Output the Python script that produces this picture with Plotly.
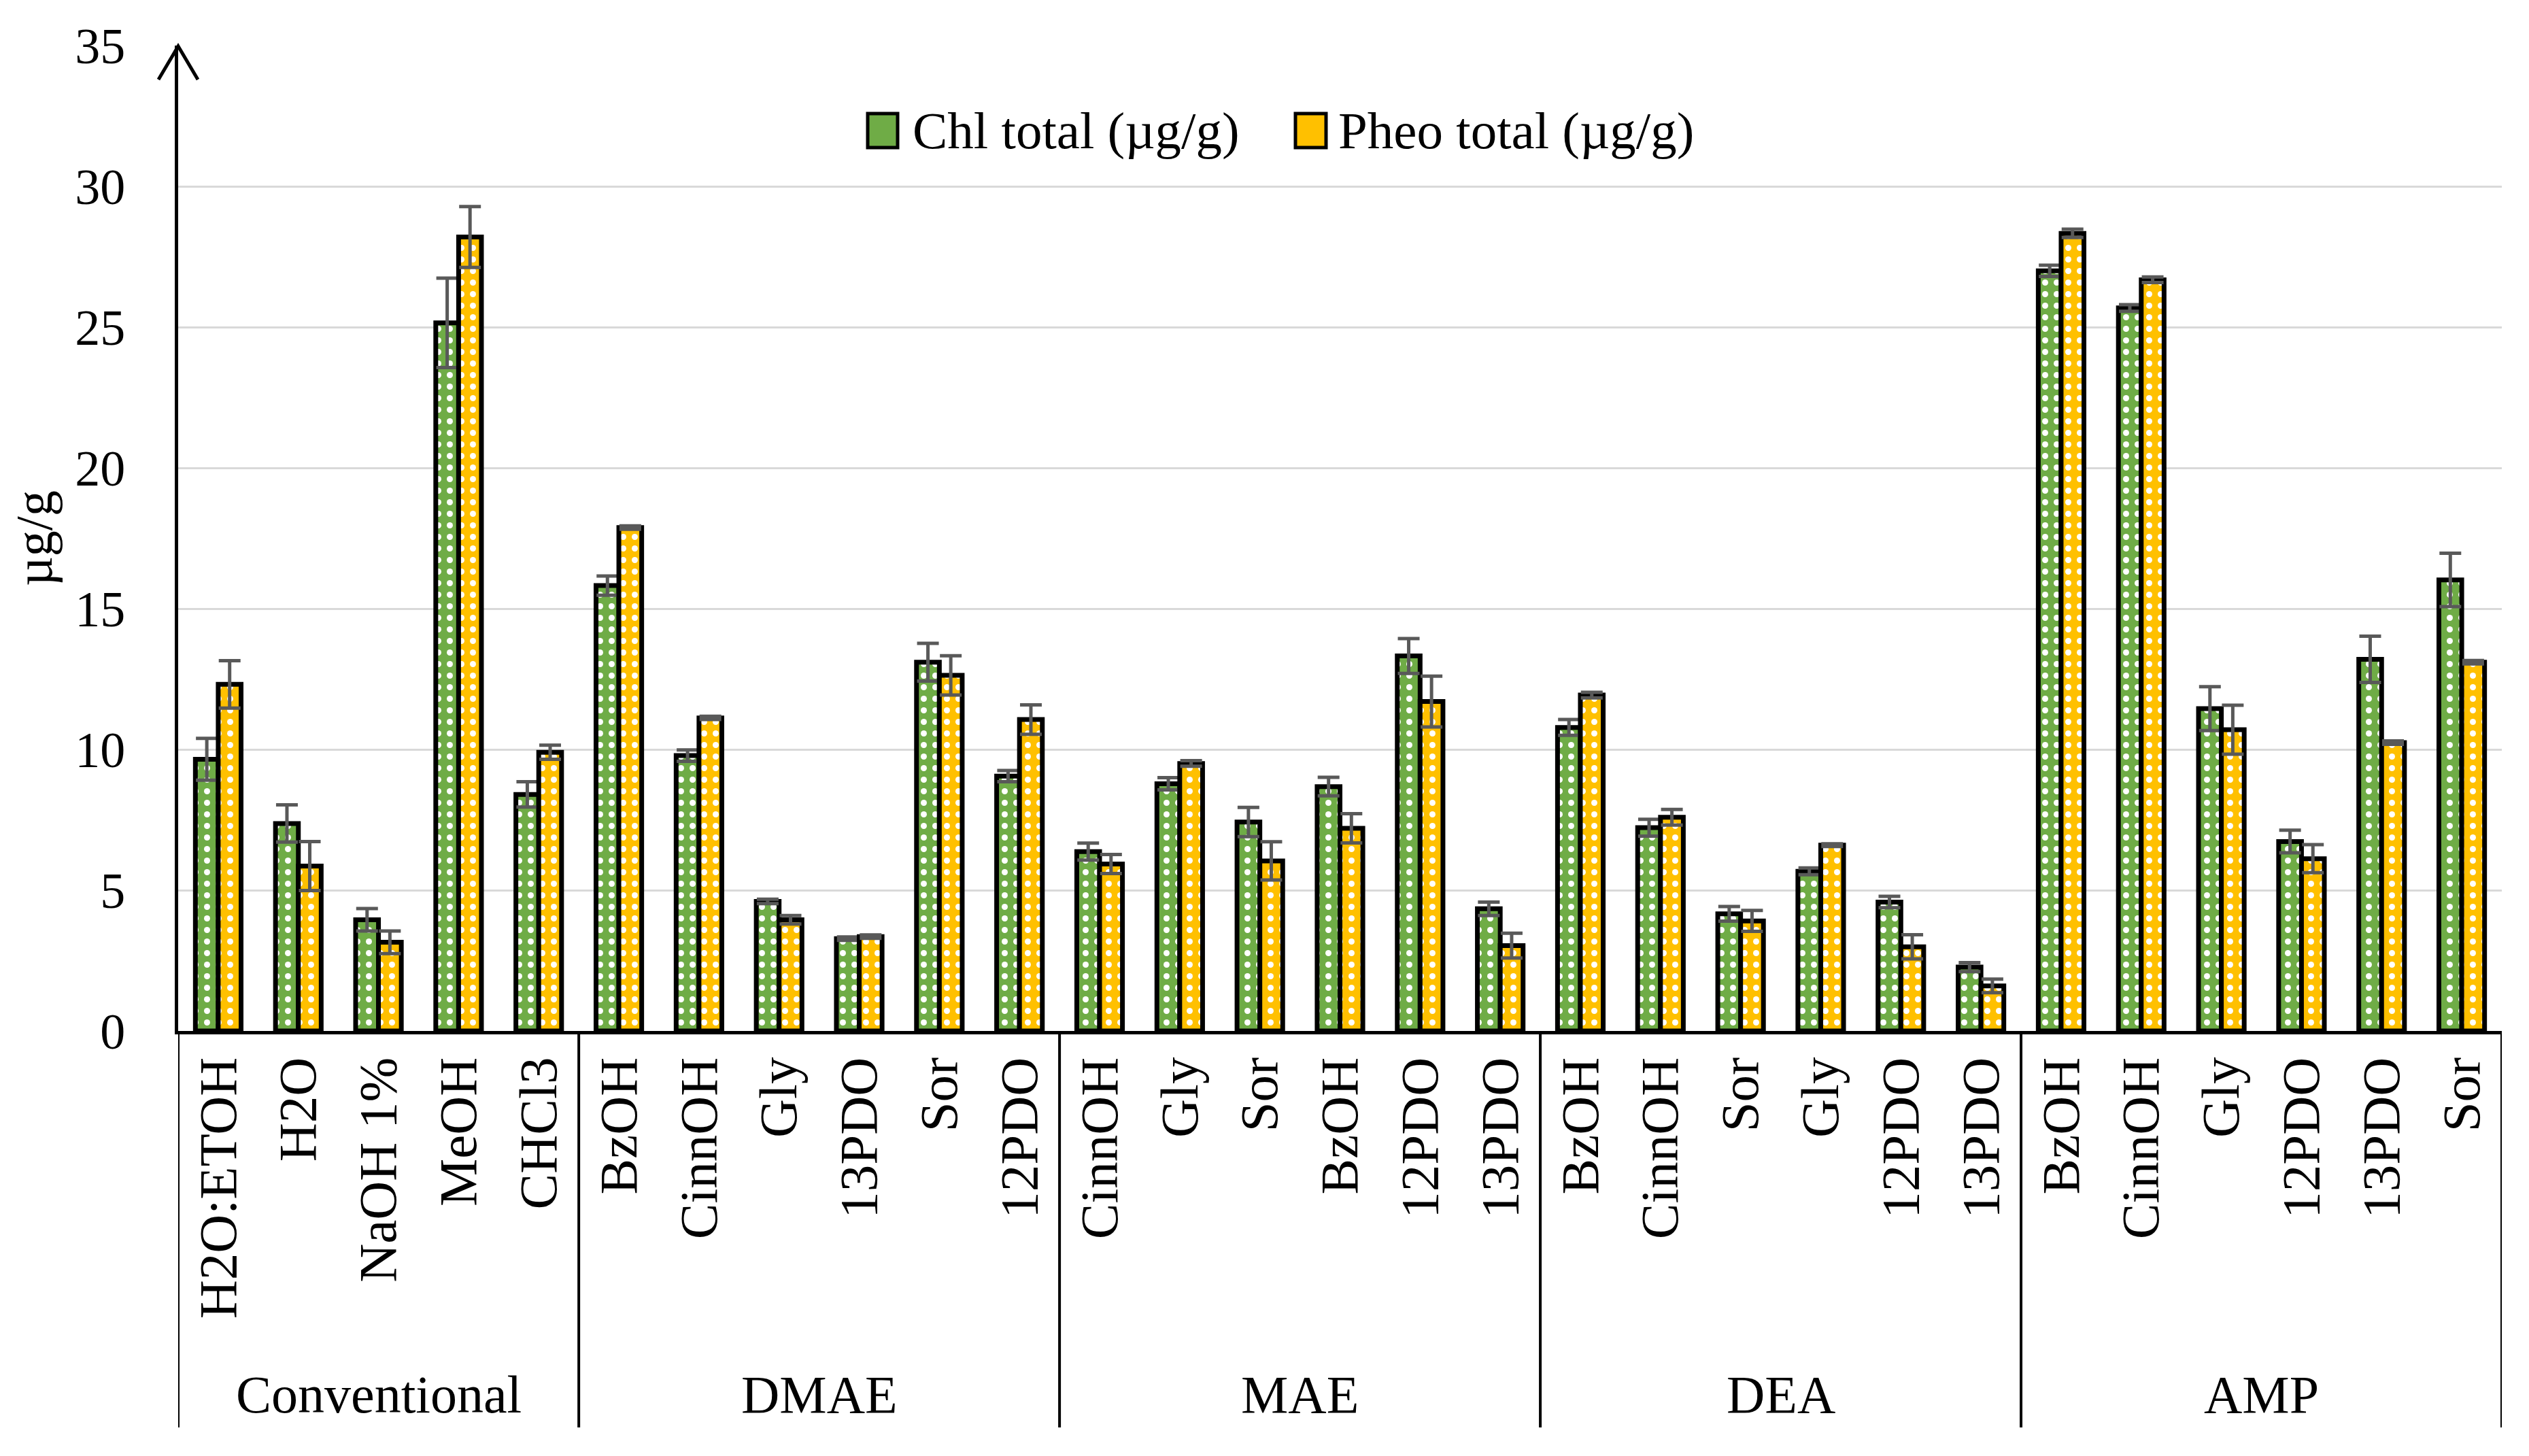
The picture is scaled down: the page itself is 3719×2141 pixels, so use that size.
import plotly.graph_objects as go

# ---------------- data ----------------
groups = ["Conventional", "DMAE", "MAE", "DEA", "AMP"]
group_sizes = [5, 6, 6, 6, 6]
categories = [
    "H2O:ETOH", "H2O", "NaOH 1%", "MeOH", "CHCl3",
    "BzOH", "CinnOH", "Gly", "13PDO", "Sor", "12PDO",
    "CinnOH", "Gly", "Sor", "BzOH", "12PDO", "13PDO",
    "BzOH", "CinnOH", "Sor", "Gly", "12PDO", "13PDO",
    "BzOH", "CinnOH", "Gly", "12PDO", "13PDO", "Sor",
]
chl = [9.65, 7.37, 3.95, 25.15, 8.4,
       15.82, 9.78, 4.6, 3.28, 13.1, 9.05,
       6.37, 8.78, 7.42, 8.68, 13.32, 4.34,
       10.78, 7.22, 4.16, 5.67, 4.58, 2.27,
       27.0, 25.68, 11.45, 6.73, 13.2, 16.02]
chl_err = [0.74, 0.66, 0.4, 1.59, 0.45,
           0.34, 0.2, 0.08, 0.06, 0.67, 0.2,
           0.3, 0.22, 0.52, 0.33, 0.62, 0.24,
           0.28, 0.3, 0.26, 0.12, 0.2, 0.16,
           0.2, 0.12, 0.78, 0.4, 0.82, 0.95]
pheo = [12.31, 5.86, 3.15, 28.2, 9.9,
        17.88, 11.12, 3.95, 3.35, 12.63, 11.06,
        5.93, 9.5, 6.04, 7.2, 11.7, 3.03,
        11.93, 7.59, 3.91, 6.6, 2.99, 1.6,
        28.33, 26.68, 10.7, 6.12, 10.24, 13.1]
pheo_err = [0.84, 0.87, 0.4, 1.08, 0.25,
            0.06, 0.06, 0.15, 0.06, 0.7, 0.52,
            0.34, 0.1, 0.68, 0.52, 0.9, 0.44,
            0.1, 0.28, 0.37, 0.05, 0.43, 0.24,
            0.15, 0.1, 0.87, 0.5, 0.06, 0.06]
y_ticks = [0, 5, 10, 15, 20, 25, 30, 35]
series_names = ["Chl total (µg/g)", "Pheo total (µg/g)"]

# ---------------- styling ----------------
OFF = 8                      # page body margin
W, H = 3719 - 2 * OFF, 2141 - 2 * OFF
L = 262 - OFF
T = 67 - OFF
R = W - (3679 - OFF)
B = H - (1516 - OFF)
PW, PH = W - L - R, H - T - B
FONT = "Liberation Serif, Times New Roman, serif"
GREEN = "#6FAC46"
YELLOW = "#FFC000"
ERRC = "#595959"


def px_x(p):
    # screen pixel -> paper x
    return (p - OFF - L) / PW


def px_y(p):
    # screen pixel -> paper y
    return (H - B - (p - OFF)) / PH


xpos = list(range(len(categories)))

fig = go.Figure()
for vals, errs, col, name in [(chl, chl_err, GREEN, series_names[0]),
                              (pheo, pheo_err, YELLOW, series_names[1])]:
    fig.add_trace(go.Bar(
        x=xpos, y=vals, name=name, showlegend=False,
        marker=dict(color=col, line=dict(color="black", width=7),
                    pattern=dict(shape=".", fgcolor="white", bgcolor=col,
                                 size=17, solidity=0.22, fillmode="replace")),
        error_y=dict(type="data", array=errs, visible=True, color=ERRC,
                     thickness=5, width=16),
    ))

shapes = []
# group dividers below the axis
bounds = [-0.5]
for s in group_sizes:
    bounds.append(bounds[-1] + s)
for b in bounds:
    shapes.append(dict(type="line", xref="x", yref="paper", x0=b, x1=b,
                       y0=0, y1=px_y(2099), line=dict(color="black", width=4)))
# arrow head on y axis
shapes.append(dict(type="path", xref="paper", yref="paper",
                   path=f"M {px_x(233)},{px_y(117)} L 0,{px_y(68)} L {px_x(291)},{px_y(117)}",
                   line=dict(color="black", width=5)))

annotations = []
start = 0
for g, s in zip(groups, group_sizes):
    annotations.append(dict(x=start + (s - 1) / 2, xref="x", y=px_y(2050), yref="paper",
                            text=g, showarrow=False, xanchor="center", yanchor="middle",
                            font=dict(family=FONT, size=78, color="black")))
    start += s

# manual legend
leg = [(1276, 1320, GREEN, series_names[0], 1340),
       (1905, 1950, YELLOW, series_names[1], 1966)]
for x0, x1, col, name, tx in leg:
    shapes.append(dict(type="rect", xref="paper", yref="paper",
                       x0=px_x(x0), x1=px_x(x1), y0=px_y(217), y1=px_y(167),
                       fillcolor=col, line=dict(color="black", width=5)))
    annotations.append(dict(x=px_x(tx), y=px_y(192), xref="paper", yref="paper",
                            text=name, showarrow=False, xanchor="left", yanchor="middle",
                            font=dict(family=FONT, size=77, color="black")))

fig.update_layout(
    width=W, height=H,
    margin=dict(l=L, r=R, t=T, b=B, pad=0),
    paper_bgcolor="white", plot_bgcolor="white",
    barmode="group", bargap=0.43, bargroupgap=0,
    font=dict(family=FONT, color="black"),
    shapes=shapes, annotations=annotations,
    xaxis=dict(range=[-0.5, len(categories) - 0.5], tickmode="array",
               tickvals=xpos, ticktext=categories, tickangle=-90,
               tickfont=dict(family=FONT, size=79, color="black"),
               showline=True, linecolor="black", linewidth=5,
               showgrid=False, ticks="", zeroline=False,
               ticklabelstandoff=2),
    yaxis=dict(range=[0, 35], tickmode="array", tickvals=y_ticks,
               tickfont=dict(family=FONT, size=74, color="black"),
               showgrid=True, gridcolor="#D9D9D9", gridwidth=3,
               showline=True, linecolor="black", linewidth=5,
               ticks="", zeroline=False, ticklabelstandoff=58,
               title=dict(text="µg/g", font=dict(family=FONT, size=76, color="black"),
                          standoff=34)),
)

fig.write_html("out.html")
